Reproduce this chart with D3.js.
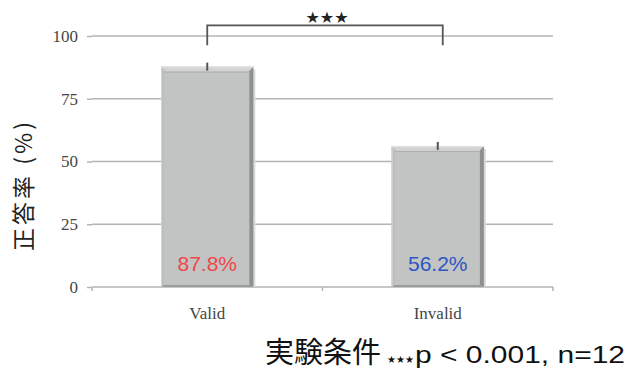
<!DOCTYPE html>
<html>
<head>
<meta charset="utf-8">
<script src="https://cdn.jsdelivr.net/npm/d3@7"></script>
<style>
  html, body { margin: 0; padding: 0; background: #fff; }
  svg { display: block; }
</style>
</head>
<body>
<svg id="chart" width="629" height="374"></svg>
<script>
// Accuracy by experimental condition
const categories = ["Valid", "Invalid"];
const accuracy = [87.8, 56.2];          // % correct
const errors = [1.6, 1.6];              // error bar half-length
const valueLabels = ["87.8%", "56.2%"];
const labelColors = ["#f04848", "#2c56c2"];
const yTicks = [0, 25, 50, 75, 100];
const bracketLevels = { top: 104.2, foot: 96.3 };

const svg = d3.select("#chart");
const plotLeft = 92, plotRight = 553, plotTop = 36, plotBottom = 287;

const x = d3.scaleBand().domain(categories).range([plotLeft, plotRight])
  .paddingInner(0.6).paddingOuter(0.3);
const y = d3.scaleLinear().domain([0, 100]).range([plotBottom, plotTop]);

// gridlines + y ticks
const yAxis = d3.axisLeft(y).tickValues(yTicks).tickSize(5).tickPadding(9)
  .tickFormat(d3.format("d"));
const gy = svg.append("g").attr("transform", `translate(${plotLeft},0)`).call(yAxis);
gy.select(".domain").remove();
gy.selectAll(".tick line").attr("stroke", "#b4b4b4").attr("stroke-width", 1.5);
gy.selectAll(".tick text")
  .attr("font-family", "'Liberation Serif', 'Times New Roman', serif")
  .attr("font-size", 17).attr("fill", "#454545");

svg.append("g").selectAll("line").data(yTicks).join("line")
  .attr("x1", plotLeft).attr("x2", plotRight)
  .attr("y1", d => y(d)).attr("y2", d => y(d))
  .attr("stroke", "#b4b4b4").attr("stroke-width", 1.5);

// x axis: ticks at band boundaries
const step = x.step();
const boundaries = categories.map(c => x(c) - step * x.paddingOuter()).concat([plotRight]);
svg.append("g").selectAll("line").data(boundaries).join("line")
  .attr("x1", d => d).attr("x2", d => d)
  .attr("y1", plotBottom).attr("y2", plotBottom + 4)
  .attr("stroke", "#b4b4b4").attr("stroke-width", 1.5);

svg.append("g").selectAll("text").data(categories).join("text")
  .attr("x", d => x(d) + x.bandwidth() / 2)
  .attr("y", 319)
  .attr("text-anchor", "middle")
  .attr("font-family", "'Liberation Serif', 'Times New Roman', serif")
  .attr("font-size", 17).attr("fill", "#454545")
  .text(d => d);

// bevelled bars
const bev = 5;
const bars = svg.append("g").selectAll("g").data(categories).join("g");
bars.each(function (c, i) {
  const g = d3.select(this);
  const x0 = x(c), x1 = x0 + x.bandwidth();
  const y0 = y(accuracy[i]), y1 = y(0);
  // soft shadow on the right
  g.append("rect").attr("x", x1).attr("y", y0 + 3).attr("width", 2).attr("height", y1 - y0 - 3)
    .attr("fill", "#dadada");
  g.append("rect").attr("x", x0).attr("y", y0).attr("width", x1 - x0).attr("height", y1 - y0)
    .attr("fill", "#c2c3c3");
  const poly = (pts, fill) => g.append("polygon")
    .attr("points", pts.map(p => p.join(",")).join(" ")).attr("fill", fill);
  poly([[x0, y0], [x1, y0], [x1 - bev, y0 + bev], [x0 + bev, y0 + bev]], "#d2d3d3");
  poly([[x1, y0], [x1, y1], [x1 - 4, y1 - 2], [x1 - 4, y0 + bev]], "#8e8f8f");
  poly([[x0, y0], [x0 + 3, y0 + bev], [x0 + 3, y1 - 2], [x0, y1]], "#bcbdbd");
  poly([[x0, y1], [x0 + 3, y1 - 2], [x1 - 4, y1 - 2], [x1, y1]], "#9a9b9b");
  g.append("line").attr("x1", x0 + 3).attr("x2", x1 - 4)
    .attr("y1", y0 + bev + 0.5).attr("y2", y0 + bev + 0.5)
    .attr("stroke", "#adaeae").attr("stroke-width", 1);
  g.append("line").attr("x1", x0).attr("x2", x1).attr("y1", y0 + 0.5).attr("y2", y0 + 0.5)
    .attr("stroke", "#e4e4e4").attr("stroke-width", 1);
  g.append("line").attr("x1", x0 + 0.5).attr("x2", x0 + 0.5).attr("y1", y0).attr("y2", y1)
    .attr("stroke", "#d6d6d6").attr("stroke-width", 1);
  // error bar
  const cx = x0 + x.bandwidth() / 2;
  g.append("line").attr("x1", cx).attr("x2", cx)
    .attr("y1", y(accuracy[i] + errors[i])).attr("y2", y(accuracy[i] - errors[i]))
    .attr("stroke", "#555").attr("stroke-width", 2);
  // value label
  g.append("text").attr("x", cx).attr("y", 271)
    .attr("text-anchor", "middle")
    .attr("font-family", "'Liberation Sans', Arial, sans-serif")
    .attr("font-size", 21).attr("fill", labelColors[i])
    .text(valueLabels[i]);
});

// significance bracket
const bx0 = x(categories[0]) + x.bandwidth() / 2;
const bx1 = x(categories[1]) + x.bandwidth() / 2 + 5;
svg.append("path")
  .attr("d", `M${bx0},${y(bracketLevels.foot)}V${y(bracketLevels.top)}H${bx1}V${y(bracketLevels.foot)}`)
  .attr("fill", "none").attr("stroke", "#555").attr("stroke-width", 1.8);
svg.append("text").attr("x", (bx0 + bx1) / 2 + 2).attr("y", 23)
  .attr("text-anchor", "middle")
  .attr("font-family", "'DejaVu Sans', sans-serif")
  .attr("font-size", 16).attr("fill", "#222")
  .text("★★★");

// y axis title
svg.append("text")
  .attr("transform", "translate(32,185) rotate(-90)")
  .attr("text-anchor", "middle")
  .attr("font-family", "'Noto Sans CJK JP', sans-serif")
  .attr("font-size", 23).attr("fill", "#222")
  .attr("letter-spacing", 3)
  .text("正答率 (%)");

// x axis title and note
svg.append("text").attr("x", 265).attr("y", 363)
  .attr("font-family", "'Noto Sans CJK JP', sans-serif")
  .attr("font-size", 29).attr("fill", "#111")
  .text("実験条件");
svg.append("text").attr("x", 387).attr("y", 363)
  .attr("font-family", "'DejaVu Sans', sans-serif")
  .attr("font-size", 10).attr("fill", "#111")
  .text("★★★");
svg.append("text").attr("x", 415).attr("y", 363)
  .attr("font-family", "'Liberation Sans', Arial, sans-serif")
  .attr("font-size", 24).attr("fill", "#111")
  .attr("textLength", 210).attr("lengthAdjust", "spacingAndGlyphs")
  .text("p < 0.001, n=12");
</script>
</body>
</html>
